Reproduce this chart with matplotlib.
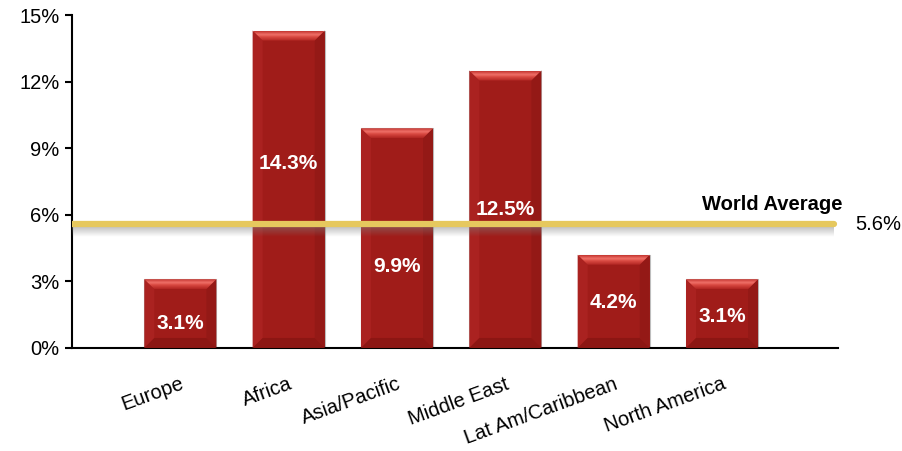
import numpy as np
import matplotlib
matplotlib.use("Agg")
import matplotlib.pyplot as plt
from matplotlib.patches import Polygon
from matplotlib.colors import to_rgb

plt.rcParams['font.family'] = ['Liberation Sans', 'DejaVu Sans']

regions = ['Europe', 'Africa', 'Asia/Pacific', 'Middle East',
           'Lat Am/Caribbean', 'North America']
shares = [3.1, 14.3, 9.9, 12.5, 4.2, 3.1]
world_average = 5.6
y_ticks = [0, 3, 6, 9, 12, 15]

# where each value label sits, as a fraction of its bar height
label_frac = [0.36, 0.58, 0.37, 0.50, 0.49, 0.46]

FACE = '#A01C19'
LEFT = '#AA2220'
RIGHT = '#941916'
BOTTOM = '#8C1613'
LINE = '#E6C85E'


def draw_bevel(ax, x0, x1, y1, dx, dy):
    """Beveled look on a bar: four facets around the flat face."""
    y0 = 0
    facets = [
        ([(x0, y0), (x0 + dx, y0 + dy), (x0 + dx, y1 - dy), (x0, y1)], LEFT),
        ([(x1, y0), (x1 - dx, y0 + dy), (x1 - dx, y1 - dy), (x1, y1)], RIGHT),
        ([(x0, y0), (x1, y0), (x1 - dx, y0 + dy), (x0 + dx, y0 + dy)], BOTTOM),
    ]
    for pts, col in facets:
        ax.add_patch(Polygon(pts, closed=True, facecolor=col,
                             edgecolor='none', zorder=3))
    # top facet gets a glossy vertical gradient
    top = Polygon([(x0, y1), (x1, y1), (x1 - dx, y1 - dy), (x0 + dx, y1 - dy)],
                  closed=True, facecolor='none', edgecolor='none', zorder=3)
    ax.add_patch(top)
    stops = np.array([0.0, 0.35, 0.6, 1.0])
    cols = np.array([to_rgb('#C33530'), to_rgb('#F07068'),
                     to_rgb('#D84840'), to_rgb('#B02622')])
    t = np.linspace(0, 1, 40)
    grad = np.stack([np.interp(t, stops, cols[:, k]) for k in range(3)], axis=-1)
    img = ax.imshow(grad[:, None, :], extent=(x0, x1, y1 - dy, y1),
                    origin='upper', aspect='auto', zorder=3.5,
                    interpolation='bilinear')
    img.set_clip_path(top)


fig = plt.figure(figsize=(9.02, 4.51), dpi=100)
ax = fig.add_axes([0.0798, 0.2284, 0.8492, 0.7383])

x = np.arange(len(regions))
width = 0.665
ax.set_xlim(-1.0, 6.07)
ax.set_ylim(0, 15)

bars = ax.bar(x, shares, width, color=FACE, edgecolor='#BDBDBD',
              linewidth=0.8, zorder=2)

# bevel size of about 10 px converted into data units
ax_w = fig.get_figwidth() * fig.dpi * 0.8492
ax_h = fig.get_figheight() * fig.dpi * 0.7383
dx = 10 * (6.07 + 1.0) / ax_w
dy = 10 * 15 / ax_h

for xi, val, frac in zip(x, shares, label_frac):
    draw_bevel(ax, xi - width / 2, xi + width / 2, val, dx, dy)
    ax.text(xi, val * frac, f'{val:.1f}%', ha='center', va='center',
            color='white', fontsize=15, fontweight='bold', zorder=5)

# soft shadow under the average line
line_end = 6.03
shade = np.zeros((30, 1, 4))
shade[..., :3] = 0.5
shade[:, 0, 3] = np.linspace(0.6, 0.0, 30)
ax.imshow(shade, extent=(-1.0, line_end, world_average - 0.6, world_average - 0.05),
          origin='upper', aspect='auto', zorder=5.5, interpolation='bilinear')
ax.set_xlim(-1.0, 6.07)
ax.set_ylim(0, 15)

ax.plot([-1.0, line_end], [world_average, world_average], color=LINE,
        linewidth=4.5, solid_capstyle='round', zorder=6)
ax.text(6.11, 6.22, 'World Average', ha='right', va='baseline',
        fontsize=14.5, fontweight='bold', color='black', clip_on=False)
ax.text(6.23, 5.55, f'{world_average:.1f}%', ha='left', va='center',
        fontsize=14.5, color='black', clip_on=False)

ax.set_yticks(y_ticks)
ax.set_yticklabels([f'{v}%' for v in y_ticks], fontsize=14.5)
ax.set_xticks(x)
ax.set_xticklabels(regions, fontsize=14.5, rotation=20, ha='right',
                   rotation_mode='anchor')
ax.tick_params(axis='x', length=0, pad=19)
ax.tick_params(axis='y', length=5, width=1.5, direction='out', pad=4)

for side in ['top', 'right']:
    ax.spines[side].set_visible(False)
ax.spines['left'].set_linewidth(1.5)
ax.spines['bottom'].set_linewidth(1.5)

fig.savefig('out.png', dpi=100)
